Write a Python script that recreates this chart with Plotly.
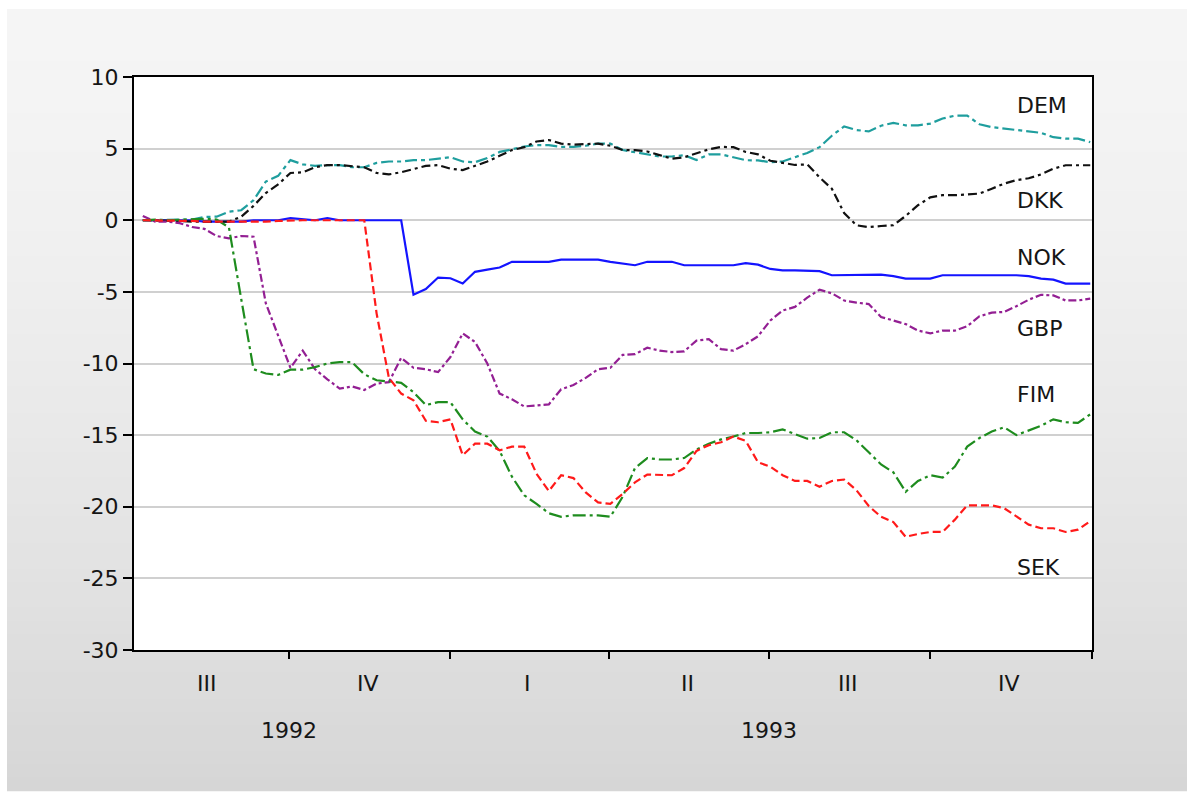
import pandas as pd
import plotly.graph_objects as go

# ---------------- data (weekly, Fridays) ----------------
dates = pd.date_range("1992-07-10", "1993-12-31", freq="W-FRI")

DEM = [0.0, 0.0, 0.0, 0.0, 0.05, 0.23, 0.25, 0.6, 0.7, 1.4,
       2.7, 3.1, 4.2, 3.9, 3.8, 3.85, 3.85, 3.7, 3.7, 4.0,
       4.1, 4.1, 4.2, 4.2, 4.3, 4.4, 4.1, 4.05, 4.35, 4.77,
       4.95, 5.15, 5.24, 5.24, 5.12, 5.12, 5.2, 5.35, 5.35, 4.9,
       4.75, 4.58, 4.45, 4.45, 4.54, 4.2, 4.6, 4.6, 4.4, 4.19,
       4.18, 4.05, 4.1, 4.42, 4.7, 5.1, 5.9, 6.55, 6.3, 6.2,
       6.6, 6.8, 6.63, 6.63, 6.75, 7.1, 7.3, 7.3, 6.7, 6.5,
       6.4, 6.3, 6.24, 6.1, 5.8, 5.7, 5.7, 5.45]

DKK = [0.0, 0.0, 0.0, -0.05, -0.1, -0.1, -0.1, -0.1, 0.25, 1.0,
       1.9, 2.5, 3.3, 3.35, 3.7, 3.85, 3.85, 3.75, 3.7, 3.3,
       3.2, 3.35, 3.6, 3.8, 3.85, 3.6, 3.5, 3.8, 4.1, 4.5,
       4.9, 5.1, 5.5, 5.6, 5.35, 5.28, 5.3, 5.35, 5.2, 4.9,
       4.9, 4.8, 4.55, 4.3, 4.4, 4.7, 4.95, 5.12, 5.1, 4.77,
       4.6, 4.15, 4.0, 3.86, 3.9, 3.0, 2.2, 0.5, -0.35, -0.48,
       -0.4, -0.35, 0.3, 1.05, 1.6, 1.75, 1.75, 1.83, 1.86, 2.2,
       2.56, 2.8, 2.93, 3.2, 3.6, 3.84, 3.84, 3.84]

NOK = [0.0, 0.0, 0.0, 0.0, 0.0, -0.1, -0.1, -0.1, -0.1, 0.0,
       0.0, 0.0, 0.15, 0.1, 0.0, 0.15, 0.0, 0.0, 0.0, 0.0,
       0.0, 0.0, -5.2, -4.8, -4.0, -4.05, -4.42, -3.6, -3.45, -3.3,
       -2.9, -2.9, -2.9, -2.9, -2.75, -2.75, -2.75, -2.75, -2.9, -3.0,
       -3.14, -2.9, -2.9, -2.9, -3.14, -3.14, -3.14, -3.14, -3.14, -3.0,
       -3.1, -3.4, -3.5, -3.5, -3.5, -3.55, -3.84, -3.84, -3.84, -3.84,
       -3.8, -3.9, -4.07, -4.07, -4.07, -3.84, -3.84, -3.84, -3.84, -3.84,
       -3.84, -3.84, -3.9, -4.07, -4.15, -4.42, -4.42, -4.42]

GBP = [0.3, -0.1, -0.1, -0.2, -0.47, -0.6, -1.1, -1.26, -1.1, -1.15,
       -5.8, -8.1, -10.3, -9.1, -10.4, -11.1, -11.75, -11.6, -11.85, -11.4,
       -11.3, -9.6, -10.3, -10.4, -10.6, -9.55, -7.9, -8.5, -10.0, -12.1,
       -12.5, -13.0, -12.9, -12.85, -11.8, -11.5, -11.0, -10.4, -10.3, -9.4,
       -9.35, -8.9, -9.1, -9.2, -9.15, -8.4, -8.3, -9.0, -9.1, -8.65,
       -8.1, -7.0, -6.3, -6.05, -5.4, -4.85, -5.1, -5.6, -5.75, -5.85,
       -6.75, -7.0, -7.25, -7.7, -7.9, -7.7, -7.7, -7.4, -6.7, -6.45,
       -6.4, -6.0, -5.55, -5.2, -5.25, -5.6, -5.6, -5.47]

FIM = [0.0, 0.05, 0.0, 0.05, 0.1, 0.1, 0.05, -0.5, -5.5, -10.4,
       -10.7, -10.8, -10.43, -10.43, -10.25, -10.0, -9.9, -9.9, -10.75, -11.17,
       -11.25, -11.35, -12.0, -12.9, -12.7, -12.7, -13.9, -14.75, -15.1, -16.1,
       -17.9, -19.2, -19.8, -20.45, -20.7, -20.6, -20.6, -20.6, -20.7, -19.3,
       -17.3, -16.6, -16.7, -16.7, -16.6, -16.0, -15.6, -15.3, -15.1, -14.85,
       -14.85, -14.8, -14.6, -14.9, -15.25, -15.2, -14.8, -14.8, -15.36, -16.2,
       -17.05, -17.6, -18.95, -18.2, -17.8, -17.97, -17.2, -15.8, -15.2, -14.75,
       -14.45, -15.0, -14.7, -14.35, -13.9, -14.1, -14.15, -13.55]

SEK = [0.0, 0.0, 0.0, 0.0, -0.05, -0.1, -0.1, -0.15, -0.1, -0.1,
       -0.1, -0.05, 0.0, 0.0, 0.0, 0.0, 0.0, 0.0, 0.0, -6.5,
       -11.0, -12.1, -12.57, -14.0, -14.1, -13.9, -16.4, -15.6, -15.6, -16.06,
       -15.8, -15.8, -17.7, -18.9, -17.8, -18.0, -19.0, -19.7, -19.8, -19.1,
       -18.3, -17.75, -17.75, -17.8, -17.3, -16.1, -15.7, -15.5, -15.1, -15.4,
       -16.9, -17.2, -17.8, -18.2, -18.2, -18.6, -18.2, -18.1, -18.85, -19.95,
       -20.7, -21.07, -22.1, -21.9, -21.76, -21.76, -20.9, -19.9, -19.9, -19.9,
       -20.1, -20.7, -21.25, -21.5, -21.5, -21.76, -21.6, -21.0]

quarter_bounds = ["1992-10-01", "1993-01-01", "1993-04-01", "1993-07-01",
                  "1993-10-01", "1994-01-01"]
quarter_mids = ["1992-08-15", "1992-11-15", "1993-02-14", "1993-05-16",
                "1993-08-15", "1993-11-15"]
quarter_labels = ["III", "IV", "I", "II", "III", "IV"]
year_pos = ["1992-10-01", "1993-07-01"]
year_labels = ["1992", "1993"]
y_ticks = [10, 5, 0, -5, -10, -15, -20, -25, -30]

# ---------------- styling ----------------
W, H = 1194, 798
L, R, T, B = 134, 102, 77, 148
FONT = "DejaVu Sans, Verdana, sans-serif"
FS = 22
TXT = "#151515"

styles = [
    ("NOK", NOK, "#1414ff", "solid"),
    ("DEM", DEM, "#1f9e9e", "12px,4px,4px,4px"),
    ("DKK", DKK, "#111111", "9px,4px,3px,4px"),
    ("GBP", GBP, "#931f93", "8px,3px,3px,3px"),
    ("FIM", FIM, "#1e8c1e", "13px,4px,3px,4px"),
    ("SEK", SEK, "#ff1a1a", "8px,4px"),
]

label_pos = {"DEM": 8.03, "DKK": 1.4, "NOK": -2.58, "GBP": -7.54,
             "FIM": -12.15, "SEK": -24.23}
label_x = "1993-11-18"

fig = go.Figure()
for name, vals, col, dash in styles:
    fig.add_trace(go.Scatter(x=dates, y=vals, mode="lines", name=name,
                             line=dict(color=col, width=2.2, dash=dash),
                             hoverinfo="skip"))

# background gradient (outer frame) drawn as strips
pw, ph = W - L - R, H - T - B
def px2x(px):
    return (px - L) / pw
def py2y(py):
    return (H - B - py) / ph

shapes = []
x0p, x1p, y0p, y1p = 7, 1187, 9, 790
N = 60
for k in range(N):
    ta = k / N
    tb = (k + 1) / N
    tm = (ta + tb) / 2
    c = int(round(245 - 31 * tm ** 1.5))
    shapes.append(dict(type="rect", xref="paper", yref="paper",
                       x0=px2x(x0p), x1=px2x(x1p),
                       y0=py2y(y0p + (y1p - y0p) * tb) - 0.002,
                       y1=py2y(y0p + (y1p - y0p) * ta),
                       fillcolor=f"rgb({c},{c},{c})", line=dict(width=0),
                       layer="below"))
shapes.append(dict(type="rect", xref="paper", yref="paper", x0=0, x1=1, y0=0, y1=1,
                   fillcolor="white", line=dict(width=0), layer="below"))

annotations = []
for name, yv in label_pos.items():
    annotations.append(dict(x=label_x, y=yv, xref="x", yref="y", text=name,
                            showarrow=False, xanchor="left", yanchor="middle",
                            font=dict(family=FONT, size=FS, color=TXT)))
for xm, lab in zip(quarter_mids, quarter_labels):
    annotations.append(dict(x=xm, y=0, xref="x", yref="paper", text=lab,
                            showarrow=False, xanchor="center", yanchor="middle",
                            yshift=-33, font=dict(family=FONT, size=FS, color=TXT)))
for xm, lab in zip(year_pos, year_labels):
    annotations.append(dict(x=xm, y=0, xref="x", yref="paper", text=lab,
                            showarrow=False, xanchor="center", yanchor="middle",
                            yshift=-80, font=dict(family=FONT, size=FS, color=TXT)))

fig.update_layout(
    width=W, height=H,
    margin=dict(l=L, r=R, t=T, b=B, pad=0),
    paper_bgcolor="white", plot_bgcolor="white",
    showlegend=False,
    shapes=shapes, annotations=annotations,
    font=dict(family=FONT, size=FS, color=TXT),
    xaxis=dict(type="date", range=["1992-07-05", "1994-01-01"],
               showgrid=False, zeroline=False,
               showline=True, linecolor="black", linewidth=2, mirror=True,
               tickmode="array", tickvals=quarter_mids, ticktext=[""] * 6,
               ticks="", showticklabels=False,
               minor=dict(tickmode="array", tickvals=quarter_bounds,
                          ticks="outside", ticklen=7, tickwidth=2,
                          tickcolor="black", showgrid=False)),
    yaxis=dict(range=[-30, 10], tickmode="array", tickvals=y_ticks,
               ticktext=[str(v) for v in y_ticks],
               showgrid=True, gridcolor="#d0d0d0", gridwidth=2,
               zeroline=False,
               showline=True, linecolor="black", linewidth=2, mirror=True,
               ticks="outside", ticklen=9, tickwidth=2, tickcolor="black",
               tickfont=dict(family=FONT, size=FS, color=TXT)),
)

fig.write_html("out.html", config={"displayModeBar": False},
               post_script="document.body.style.margin='0';document.body.style.padding='0';")
